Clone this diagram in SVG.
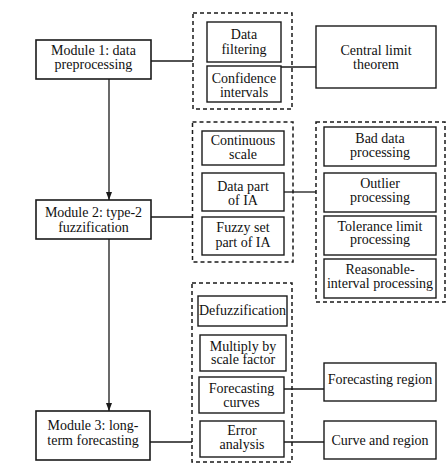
<svg xmlns="http://www.w3.org/2000/svg" width="446" height="470" viewBox="0 0 446 470">
<style>
.b{fill:#fff;stroke:#1a1a1a;stroke-width:1.4}
.m{fill:#fff;stroke:#1a1a1a;stroke-width:1.6}
.d{fill:none;stroke:#1a1a1a;stroke-width:1.5;stroke-dasharray:4 3}
.c{fill:none;stroke:#1a1a1a;stroke-width:1.3}
.t text{font-size:14px;fill:#111;text-anchor:middle}
</style>
<defs>
<marker id="ah" viewBox="0 0 8 8" refX="8" refY="4" markerWidth="8" markerHeight="8" markerUnits="userSpaceOnUse" orient="auto">
<path d="M0,1 L8,4 L0,7 Z" fill="#1a1a1a"/>
</marker>
</defs>
<g id="connectors">
<line class="c" x1="109" y1="79" x2="109" y2="200" marker-end="url(#ah)"/>
<line class="c" x1="109" y1="239" x2="109" y2="411" marker-end="url(#ah)"/>
<line class="c" x1="151" y1="61" x2="193" y2="61"/>
<line class="c" x1="281" y1="67" x2="316" y2="67"/>
<line class="c" x1="151" y1="217" x2="192" y2="217"/>
<line class="c" x1="284" y1="192" x2="316" y2="192"/>
<line class="c" x1="150" y1="442" x2="192" y2="442"/>
<line class="c" x1="284" y1="389" x2="324" y2="389"/>
<line class="c" x1="284" y1="442" x2="324" y2="442"/>
</g>
<g id="groups">
<rect class="d" x="193" y="13" width="99" height="96"/>
<rect class="d" x="192.5" y="122" width="100.5" height="140"/>
<rect class="d" x="316" y="122" width="129" height="180"/>
<rect class="d" x="192" y="283" width="100" height="179"/>
</g>
<g class="t" font-family="Liberation Serif, Times New Roman, DejaVu Serif, serif">
<g id="module1"><rect class="m" x="36" y="40" width="115" height="39"/><text x="93.5" y="55">Module 1: data</text><text x="93.5" y="69">preprocessing</text></g>
<g id="module2"><rect class="m" x="36" y="200" width="115" height="39"/><text x="93.5" y="217">Module 2: type-2</text><text x="93.5" y="231.5">fuzzification</text></g>
<g id="module3"><rect class="m" x="36" y="411" width="114" height="49"/><text x="93" y="430">Module 3: long-</text><text x="93" y="445">term forecasting</text></g>
<g id="data-filtering"><rect class="b" x="207" y="22" width="74" height="40"/><text x="244" y="39">Data</text><text x="244" y="54">filtering</text></g>
<g id="confidence-intervals"><rect class="b" x="207" y="66" width="74" height="36"/><text x="244" y="83">Confidence</text><text x="244" y="96.5">intervals</text></g>
<g id="central-limit"><rect class="b" x="316" y="26" width="120" height="62"/><text x="376" y="55">Central limit</text><text x="376" y="68.5">theorem</text></g>
<g id="continuous-scale"><rect class="b" x="202" y="131" width="82" height="34"/><text x="243" y="145">Continuous</text><text x="243" y="159">scale</text></g>
<g id="data-part"><rect class="b" x="202" y="173" width="82" height="38"/><text x="243" y="190.5">Data part</text><text x="243" y="205">of IA</text></g>
<g id="fuzzy-set-part"><rect class="b" x="202" y="217" width="82" height="38"/><text x="243" y="232">Fuzzy set</text><text x="243" y="246.5">part of IA</text></g>
<g id="bad-data"><rect class="b" x="324" y="127" width="112" height="39"/><text x="380" y="142.5">Bad data</text><text x="380" y="156.5">processing</text></g>
<g id="outlier"><rect class="b" x="324" y="173" width="112" height="39"/><text x="380" y="187.5">Outlier</text><text x="380" y="201.5">processing</text></g>
<g id="tolerance"><rect class="b" x="324" y="216" width="112" height="39"/><text x="380" y="230.5">Tolerance limit</text><text x="380" y="244">processing</text></g>
<g id="reasonable"><rect class="b" x="324" y="259" width="112" height="39"/><text x="380" y="274">Reasonable-</text><text x="380" y="288">interval processing</text></g>
<g id="defuzzification"><rect class="b" x="198" y="296" width="89" height="30"/><text x="242.5" y="315">Defuzzification</text></g>
<g id="multiply"><rect class="b" x="200" y="335" width="86" height="36"/><text x="243" y="350.5">Multiply by</text><text x="243" y="364">scale factor</text></g>
<g id="forecasting-curves"><rect class="b" x="199" y="377" width="85" height="36"/><text x="241.5" y="393">Forecasting</text><text x="241.5" y="406.5">curves</text></g>
<g id="error-analysis"><rect class="b" x="200" y="421" width="84" height="36"/><text x="242" y="434.5">Error</text><text x="242" y="448.5">analysis</text></g>
<g id="forecasting-region"><rect class="b" x="324" y="363" width="112" height="38"/><text x="380" y="384">Forecasting region</text></g>
<g id="curve-region"><rect class="b" x="324" y="421" width="112" height="38"/><text x="380" y="445">Curve and region</text></g>
</g>
</svg>
